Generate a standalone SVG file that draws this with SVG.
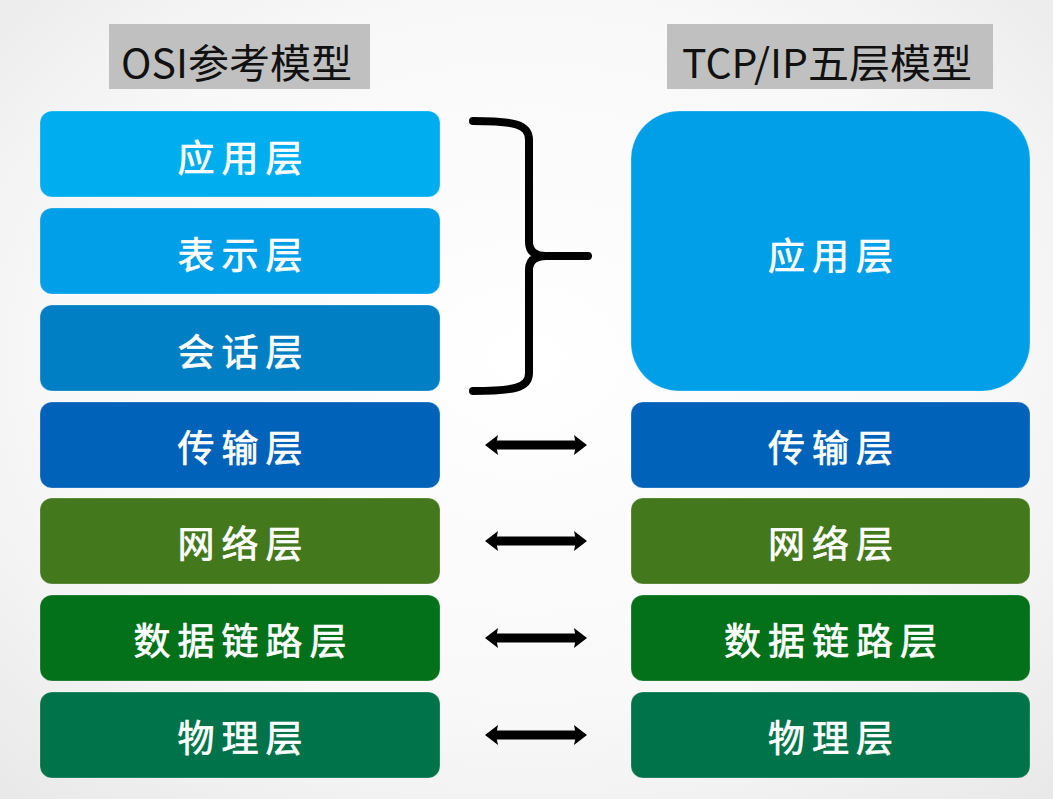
<svg xmlns="http://www.w3.org/2000/svg" width="1053" height="799" viewBox="0 0 1053 799">
<style>
.lbl{font-family:"Noto Sans CJK SC","Noto Sans",sans-serif;font-size:37px;fill:#ffffff;stroke:#ffffff;stroke-width:0.7px;text-anchor:middle;letter-spacing:7px}
.ttl{font-family:"Noto Sans CJK SC","Noto Sans",sans-serif;font-size:40px;fill:#111111}
.tbox{fill:#c0c0c0}
.box{stroke:#ffffff;stroke-opacity:0.25;stroke-width:1}
.conn{stroke:#000000;fill:none}
</style>
<defs>
<radialGradient id="bg" cx="50%" cy="45%" r="75%">
<stop offset="0" stop-color="#ffffff"/>
<stop offset="0.6" stop-color="#f8f8f8"/>
<stop offset="1" stop-color="#e8e8e8"/>
</radialGradient>
<marker id="ah" markerUnits="userSpaceOnUse" markerWidth="16" markerHeight="24" viewBox="0 -12 16 24" refX="5" refY="0" orient="auto-start-reverse">
<path d="M0,-10 L13,0 L0,10 L2,0 Z" fill="#000000"/>
</marker>
</defs>
<rect x="0" y="0" width="1053" height="799" fill="url(#bg)"/>

<g id="title-osi">
<rect class="tbox" x="109" y="24" width="261" height="65"/>
<text class="ttl" x="121" y="78" textLength="231" lengthAdjust="spacingAndGlyphs">OSI参考模型</text>
</g>
<g id="title-tcpip">
<rect class="tbox" x="667" y="24" width="326" height="65"/>
<text class="ttl" x="682" y="78" textLength="290" lengthAdjust="spacingAndGlyphs">TCP/IP五层模型</text>
</g>

<g id="osi-app">
<rect class="box" x="40" y="111" width="400" height="86" rx="12" fill="#00aeef"/>
<text class="lbl" x="243.5" y="172">应用层</text>
</g>
<g id="osi-pres">
<rect class="box" x="40" y="208" width="400" height="86" rx="12" fill="#009fe8"/>
<text class="lbl" x="243.5" y="269">表示层</text>
</g>
<g id="osi-sess">
<rect class="box" x="40" y="305" width="400" height="86" rx="12" fill="#007fc4"/>
<text class="lbl" x="243.5" y="366">会话层</text>
</g>
<g id="osi-trans">
<rect class="box" x="40" y="402" width="400" height="86" rx="12" fill="#0062b8"/>
<text class="lbl" x="243.5" y="462">传输层</text>
</g>
<g id="osi-net">
<rect class="box" x="40" y="498" width="400" height="86" rx="12" fill="#44781c"/>
<text class="lbl" x="243.5" y="558">网络层</text>
</g>
<g id="osi-link">
<rect class="box" x="40" y="595" width="400" height="86" rx="12" fill="#02711a"/>
<text class="lbl" x="243.5" y="655">数据链路层</text>
</g>
<g id="osi-phys">
<rect class="box" x="40" y="692" width="400" height="86" rx="12" fill="#00734a"/>
<text class="lbl" x="243.5" y="752">物理层</text>
</g>

<g id="tcp-app">
<rect class="box" x="631" y="111" width="399" height="280" rx="48" fill="#009fe8"/>
<text class="lbl" x="834" y="270">应用层</text>
</g>
<g id="tcp-trans">
<rect class="box" x="631" y="402" width="399" height="86" rx="12" fill="#0062b8"/>
<text class="lbl" x="834" y="462">传输层</text>
</g>
<g id="tcp-net">
<rect class="box" x="631" y="498" width="399" height="86" rx="12" fill="#44781c"/>
<text class="lbl" x="834" y="558">网络层</text>
</g>
<g id="tcp-link">
<rect class="box" x="631" y="595" width="399" height="86" rx="12" fill="#02711a"/>
<text class="lbl" x="834" y="655">数据链路层</text>
</g>
<g id="tcp-phys">
<rect class="box" x="631" y="692" width="399" height="86" rx="12" fill="#00734a"/>
<text class="lbl" x="834" y="752">物理层</text>
</g>

<g id="connectors">
<path class="conn" stroke-width="8" stroke-linecap="round" stroke-linejoin="round" d="M473,121 C514,121 529,124 529,140 L529,242 Q529,256 546,256 L588,256 M546,256 Q529,256 529,270 L529,373 C529,388 514,391 473,391"/>
<line class="conn" x1="493" y1="445" x2="579" y2="445" stroke-width="9" marker-start="url(#ah)" marker-end="url(#ah)"/>
<line class="conn" x1="493" y1="541" x2="579" y2="541" stroke-width="9" marker-start="url(#ah)" marker-end="url(#ah)"/>
<line class="conn" x1="493" y1="638" x2="579" y2="638" stroke-width="9" marker-start="url(#ah)" marker-end="url(#ah)"/>
<line class="conn" x1="493" y1="735" x2="579" y2="735" stroke-width="9" marker-start="url(#ah)" marker-end="url(#ah)"/>
</g>
</svg>
